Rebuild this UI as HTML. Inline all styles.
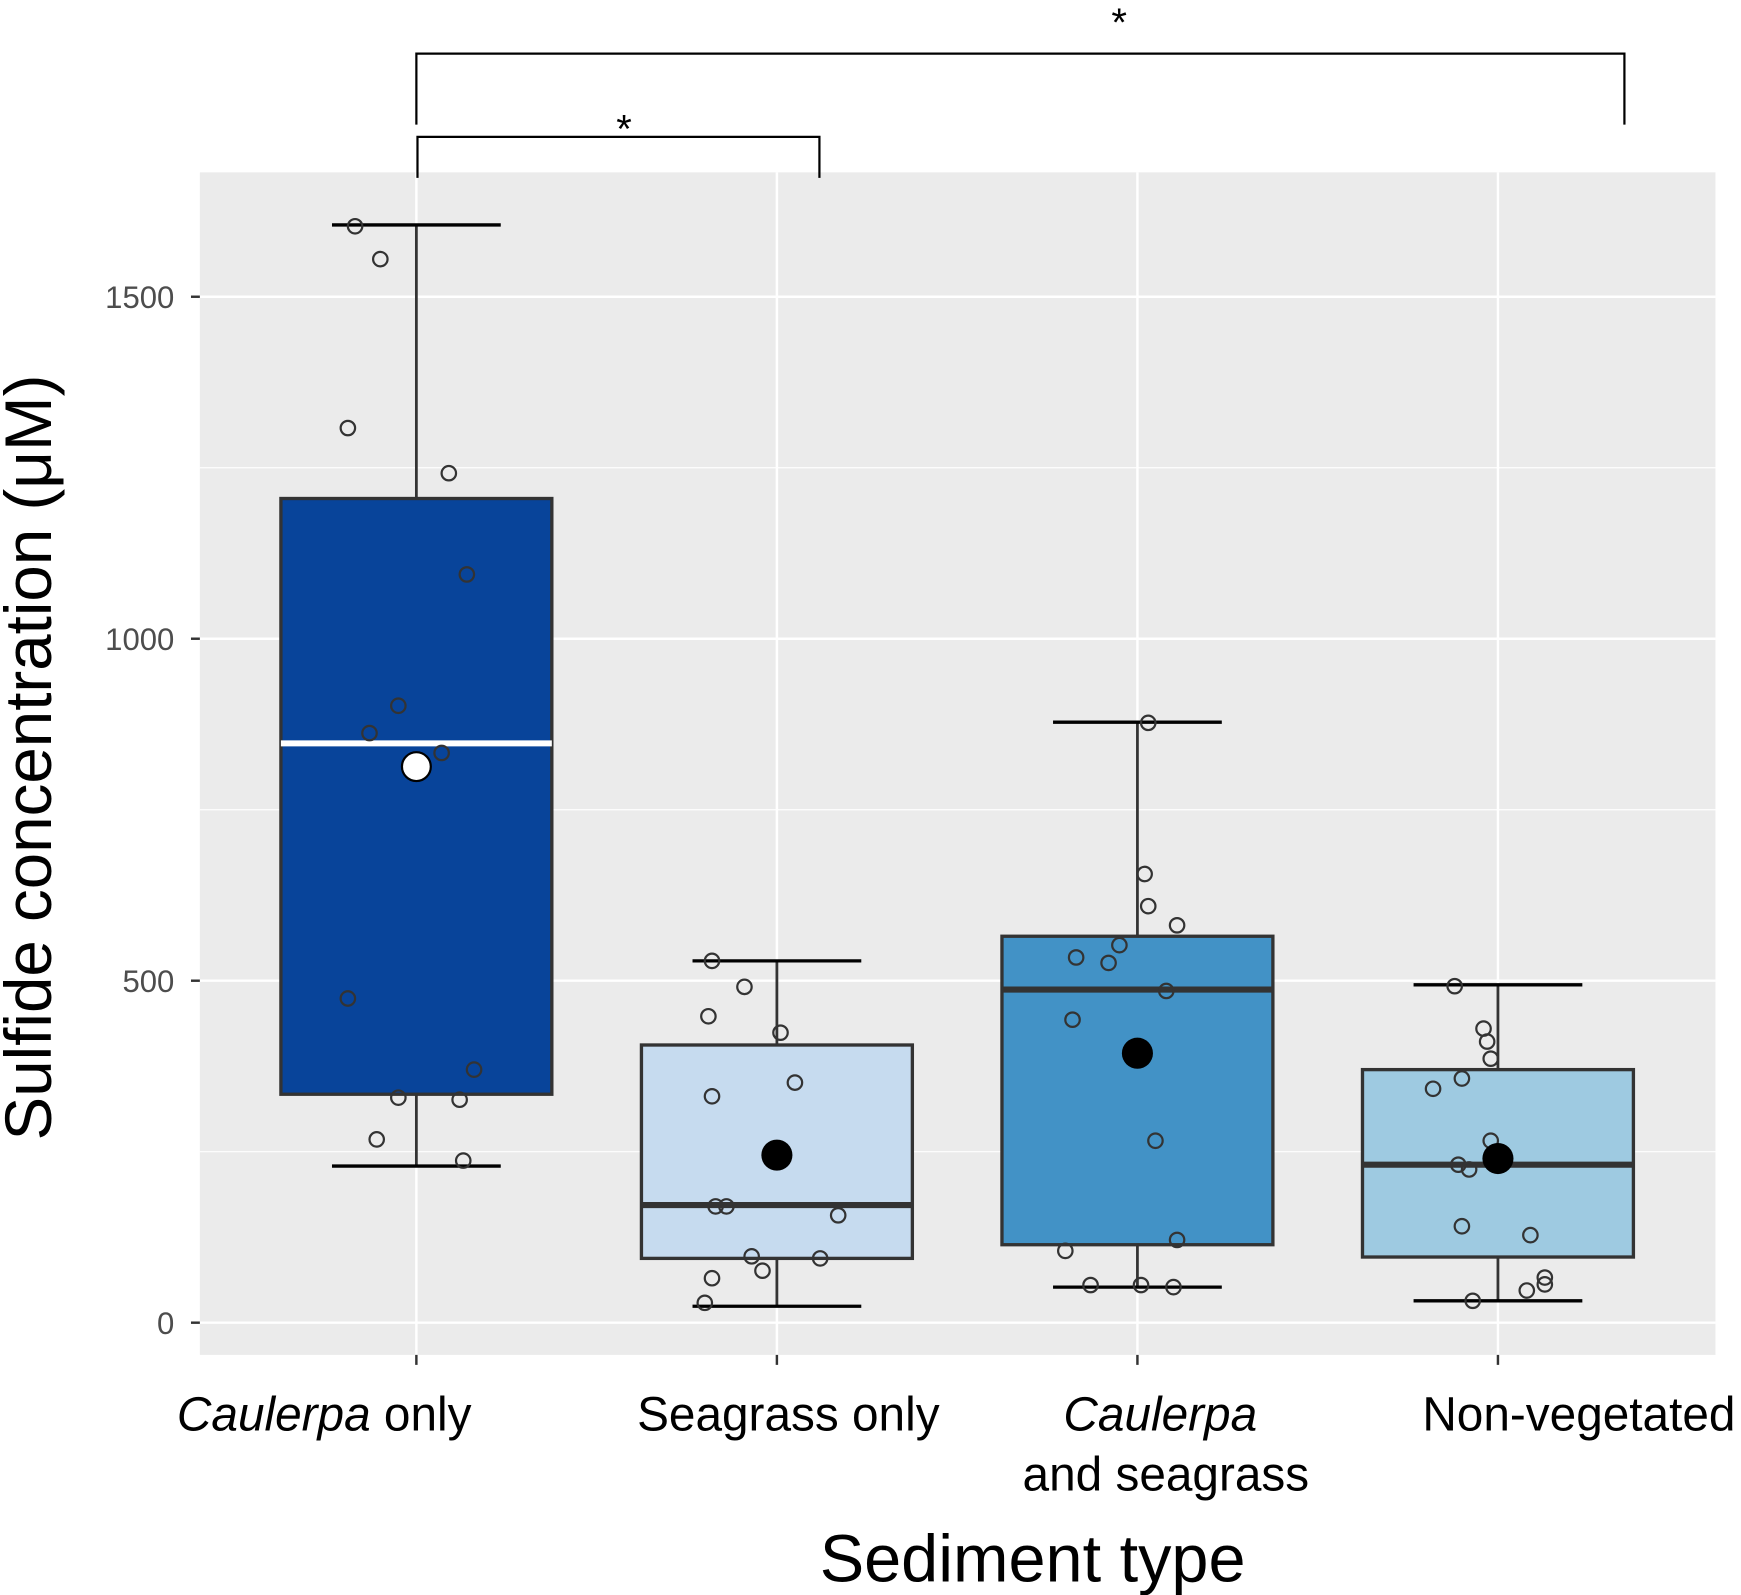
<!DOCTYPE html>
<html><head><meta charset="utf-8"><style>
html,body{margin:0;padding:0;background:#fff}
svg{display:block;font-family:"Liberation Sans",sans-serif}
</style></head><body>
<svg id="chart" width="1741" height="1595" viewBox="0 0 1568 1436" xmlns="http://www.w3.org/2000/svg">
<rect x="180" y="155" width="1365" height="1065" fill="#ebebeb"/>
<g id="grid"></g><g id="marks"></g><g id="axes"></g>
</svg>
<script>
const categories = ["Caulerpa only","Seagrass only","Caulerpa and seagrass","Non-vegetated"];
const whiskerHigh = [1605, 529, 878, 494];
const q3 = [1205, 406, 565, 370];
const medians = [847, 172, 487, 231];
const q1 = [334, 94, 114, 96];
const whiskerLow = [229, 24, 52, 32];
const means = [813, 245, 394, 240];
const yTicks = [0, 500, 1000, 1500];
const pts0 = [1603,1555,1308,1242,1094,902,862,833,474,329,370,326,268,237];
const jit0 = [-0.17,-0.10,-0.19,0.09,0.14,-0.05,-0.13,0.07,-0.19,-0.05,0.16,0.12,-0.11,0.13];
const pts1 = [529,491,448,424,351,331,170,170,157,97,94,76,65,29];
const jit1 = [-0.18,-0.09,-0.19,0.01,0.05,-0.18,-0.17,-0.14,0.17,-0.07,0.12,-0.04,-0.18,-0.20];
const pts2 = [877,656,609,581,552,534,526,485,443,266,121,105,55,55,52];
const jit2 = [0.03,0.02,0.03,0.11,-0.05,-0.17,-0.08,0.08,-0.18,0.05,0.11,-0.20,-0.13,0.01,0.10];
const pts3 = [492,430,411,386,357,342,266,231,224,141,128,66,56,47,32];
const jit3 = [-0.12,-0.04,-0.03,-0.02,-0.10,-0.18,-0.02,-0.11,-0.08,-0.10,0.09,0.13,0.13,0.08,-0.07];
const points = [pts0, pts1, pts2, pts3];
const jitters = [jit0, jit1, jit2, jit3];
const fills = ["#08449a","#c6dbef","#4292c6","#9ecae1"];

const NS = "http://www.w3.org/2000/svg";
const x = i => 375 + i * 324.7;
const y = v => 1191 - v * 0.616;
function mk(parent, tag, attrs){const e=document.createElementNS(NS,tag);for(const k in attrs)e.setAttribute(k,attrs[k]);document.getElementById(parent).appendChild(e);return e;}

yTicks.forEach(t=>{
  const g=mk('grid','line',{x1:180,x2:1545,y1:y(t),y2:y(t),stroke:'#fff','stroke-width':2.2});
  
  
  const m=mk('grid','line',{x1:180,x2:1545,y1:y(t+250),y2:y(t+250),stroke:'#fff','stroke-width':1.1});
  
  
  const tk=mk('axes','line',{x1:172,x2:180,y1:y(t),y2:y(t),stroke:'#333','stroke-width':2.2});
  
  
  const tl=mk('axes','text',{x:157,y:y(t)+10,'text-anchor':'end','font-size':28,fill:'#4d4d4d'});
  tl.textContent=t;
  
  
});
const gm=mk('grid','line',{x1:180,x2:1545,y1:y(-125),y2:y(-125),stroke:'#fff','stroke-width':1.1});



categories.forEach((c,i)=>{
  const cx=x(i);
  const vg=mk('grid','line',{x1:cx,x2:cx,y1:155,y2:1220,stroke:'#fff','stroke-width':2.2});
  
  
  const w1=mk('marks','line',{x1:cx,x2:cx,y1:y(whiskerHigh[i]),y2:y(q3[i]),stroke:'#333','stroke-width':2.5});
  
  
  const w2=mk('marks','line',{x1:cx,x2:cx,y1:y(q1[i]),y2:y(whiskerLow[i]),stroke:'#333','stroke-width':2.5});
  
  
  [whiskerHigh[i],whiskerLow[i]].forEach(v=>{
    const cp=mk('marks','line',{x1:cx-76,x2:cx+76,y1:y(v),y2:y(v),stroke:'#000','stroke-width':3});
    
    
  });
  const b=mk('marks','rect',{x:cx-122,y:y(q3[i]),width:244,height:y(q1[i])-y(q3[i]),fill:fills[i],stroke:'#333','stroke-width':3});
  
  
  const md=mk('marks','line',{x1:cx-122,x2:cx+122,y1:y(medians[i]),y2:y(medians[i]),stroke:i===0?'#fff':'#333','stroke-width':5.5});
  
  
  points[i].forEach((v,j)=>{
    const p=mk('marks','circle',{cx:cx+jitters[i][j]*324.7,cy:y(v),r:6.5,fill:'none',stroke:'#333','stroke-width':2});
    
    
  });
  const mn=mk('marks','circle',{cx:cx,cy:y(means[i]),r:i===0?13:14,fill:i===0?'#fff':'#000',stroke:'#000','stroke-width':i===0?2:0});
  
  
  const xt=mk('axes','line',{x1:cx,x2:cx,y1:1220,y2:1229,stroke:'#333','stroke-width':2.2});
  
  
});

const labels=[
 [292,1288,'<tspan font-style="italic">Caulerpa</tspan> only'],
 [710,1288,'Seagrass only'],
 [1045,1288,'<tspan font-style="italic">Caulerpa</tspan>'],
 [1050,1342,'and seagrass'],
 [1422,1288,'Non-vegetated']];
labels.forEach(l=>{
  const t=mk('axes','text',{x:l[0],y:l[1],'text-anchor':'middle','font-size':43,fill:'#000'});
  t.innerHTML=l[2];
  
  
});
</script>
<script>
(function(){
const s=document.getElementById('chart');
s.insertAdjacentHTML('beforeend',`
<text x="930" y="1424" text-anchor="middle" font-size="60" fill="#000">Sediment type</text>
<text transform="translate(46,682) rotate(-90)" text-anchor="middle" font-size="59" fill="#000">Sulfide concentration (μM)</text>
<g fill="none" stroke="#000">
<path d="M375,112 V48 H1463 V112" stroke-width="2"/></g>
<text x="1008" y="32" text-anchor="middle" font-size="36">*</text>
<g fill="none" stroke="#000">
<path d="M376,160 V123 H738 V160" stroke-width="2"/></g>
<text x="562" y="128" text-anchor="middle" font-size="36">*</text>
`);
})();
</script>
</body></html>
